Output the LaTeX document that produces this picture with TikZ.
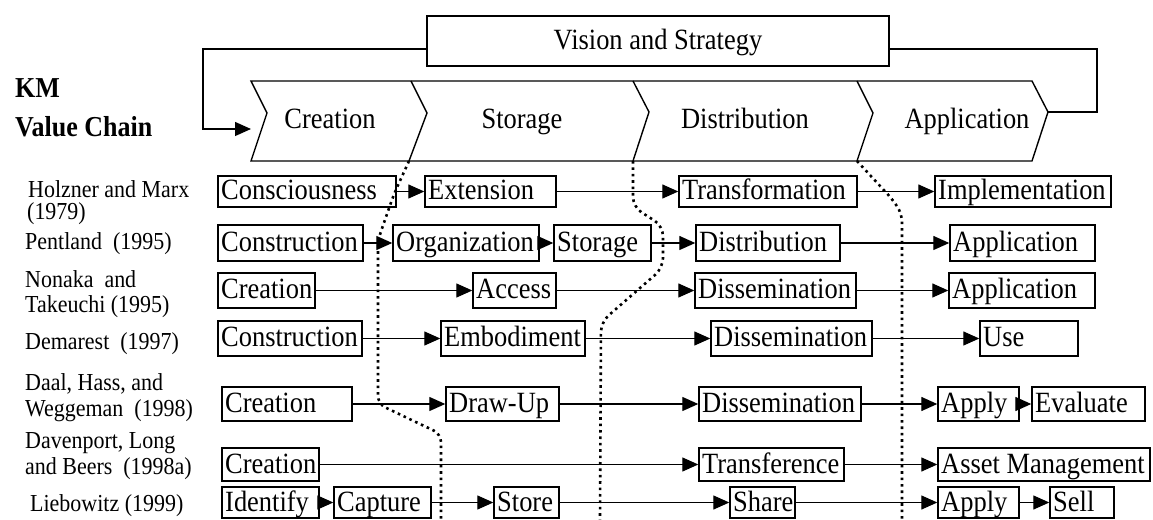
\documentclass[tikz,border=0pt]{standalone}
\usepackage{fontspec}
\setmainfont{Liberation Serif}[FakeStretch=0.9]
\usetikzlibrary{arrows.meta}
\tikzset{
  bx/.style={draw, line width=1.4bp, inner sep=0pt},
  btxt/.style={inner sep=0pt, anchor=base west, font=\fontsize{29.5}{33}\selectfont},
  ctxt/.style={inner sep=0pt, anchor=base, font=\fontsize{29.5}{33}\selectfont},
  lbl/.style={inner sep=0pt, anchor=base west, font=\fontsize{24.5}{25}\selectfont},
  kml/.style={inner sep=0pt, anchor=base west, font=\fontsize{29}{33}\selectfont\bfseries},
  ln/.style={line width=1.3bp},
  arr/.style={line width=1.3bp, -{Triangle[length=16bp,width=14bp]}},
  chev/.style={line width=1.4bp, line join=miter},
  dots/.style={line width=2.6bp, dash pattern=on 2.6bp off 3.8bp},
}
\newcommand\KBox[6]{%
  \node[bx, minimum width={(#3-#2)*1bp}, minimum height={(#5-#4)*1bp}] (#1) at ({(#2+#3)/2},{(#4+#5)/2}) {};
  \node[btxt] (#1t) at ({#2+3},{(#4+#5)/2+8.5}) {#6};}
\begin{document}
\begin{tikzpicture}[x=1bp,y=-1bp]
\useasboundingbox (0,0) rectangle (1153,520);
% Vision and strategy
\node[bx, minimum width=462bp, minimum height=50bp] (vis) at (658,41) {};
\node[ctxt] (vist) at (658,50) {Vision and Strategy};
% KM value chain label
\node[kml] (km) at (15,98) {KM};
\node[kml] (vc) at (15,137) {Value Chain};
% chevrons
\coordinate (c0t) at (251,81); \coordinate (c0n) at (267,113); \coordinate (c0b) at (251,161);
\coordinate (c1t) at (411,81); \coordinate (c1n) at (427,113); \coordinate (c1b) at (409,161);
\coordinate (c2t) at (633,81); \coordinate (c2n) at (649,112); \coordinate (c2b) at (633,161);
\coordinate (c3t) at (857,81); \coordinate (c3n) at (873,113); \coordinate (c3b) at (857,161);
\coordinate (c4t) at (1032,81); \coordinate (c4n) at (1048,112); \coordinate (c4b) at (1032,161);
\draw[chev] (c0t) -- (c4t) -- (c4n) -- (c4b) -- (c0b) -- (c0n) -- cycle;
\draw[chev] (c1t) -- (c1n) -- (c1b);
\draw[chev] (c2t) -- (c2n) -- (c2b);
\draw[chev] (c3t) -- (c3n) -- (c3b);
\node[ctxt] (sCre) at (330,129) {Creation};
\node[ctxt] (sSto) at (522,129) {Storage};
\node[ctxt] (sDis) at (745,129) {Distribution};
\node[ctxt] (sApp) at (967,129) {Application};
% loops
\coordinate (lk) at (203,49); \coordinate (cin) at (251,129);
\coordinate (rk) at (1097,49);
\draw[arr] (vis.west |- lk) -- (lk) -- (lk |- cin) -- (cin);
\draw[ln] (vis.east |- rk) -- (rk) -- (rk |- c4n) -- (c4n);
% row labels
\node[lbl] (l1a) at (28,198) {Holzner and Marx};
\node[lbl] (l1b) at (27,220) {(1979)};
\node[lbl] (l2) at (25,250) {Pentland\ \ (1995)};
\node[lbl] (l3a) at (25,288) {Nonaka\ \ and};
\node[lbl] (l3b) at (25,313) {Takeuchi (1995)};
\node[lbl] (l4) at (25,350) {Demarest\ \ (1997)};
\node[lbl] (l5a) at (25,390) {Daal, Hass, and};
\node[lbl] (l5b) at (25,416) {Weggeman\ \ (1998)};
\node[lbl] (l6a) at (25,448) {Davenport, Long};
\node[lbl] (l6b) at (25,474) {and Beers\ \ (1998a)};
\node[lbl] (l7) at (30,511) {Liebowitz (1999)};
% row 1
\KBox{h1a}{218}{396}{176}{207}{Consciousness}
\KBox{h1b}{425}{556}{176}{207}{Extension}
\KBox{h1c}{679}{857}{176}{207}{Transformation}
\KBox{h1d}{935}{1111}{176}{207}{Implementation}
% row 2
\KBox{p2a}{218}{363}{225}{261}{Construction}
\KBox{p2b}{393}{539}{225}{261}{Organization}
\KBox{p2c}{554}{651}{225}{261}{Storage}
\KBox{p2d}{696}{840}{225}{261}{Distribution}
\KBox{p2e}{950}{1095}{225}{261}{Application}
% row 3
\KBox{n3a}{218}{315}{273}{308}{Creation}
\KBox{n3b}{473}{556}{273}{308}{Access}
\KBox{n3c}{695}{856}{273}{308}{Dissemination}
\KBox{n3d}{949}{1095}{273}{308}{Application}
% row 4
\KBox{d4a}{218}{362}{321}{356}{Construction}
\KBox{d4b}{441}{585}{321}{356}{Embodiment}
\KBox{d4c}{711}{872}{321}{356}{Dissemination}
\KBox{d4d}{980}{1078}{321}{356}{Use}
% row 5
\KBox{g5a}{222}{352}{387}{421}{Creation}
\KBox{g5b}{446}{559}{387}{421}{Draw-Up}
\KBox{g5c}{699}{861}{387}{421}{Dissemination}
\KBox{g5d}{938}{1019}{387}{421}{Apply}
\KBox{g5e}{1032}{1145}{387}{421}{Evaluate}
% row 6
\KBox{v6a}{222}{319}{448}{481}{Creation}
\KBox{v6b}{699}{844}{448}{481}{Transference}
\KBox{v6c}{938}{1150}{448}{481}{Asset Management}
% row 7
\KBox{w7a}{222}{319}{487}{518}{Identify}
\KBox{w7b}{334}{431}{487}{518}{Capture}
\KBox{w7c}{494}{559}{487}{518}{Store}
\KBox{w7d}{730}{795}{487}{518}{Share}
\KBox{w7e}{938}{1019}{487}{518}{Apply}
\KBox{w7f}{1050}{1114}{487}{518}{Sell}
% arrows
\foreach \a/\b in {h1a/h1b,h1b/h1c,h1c/h1d,
  p2a/p2b,p2b/p2c,p2c/p2d,p2d/p2e,
  n3a/n3b,n3b/n3c,n3c/n3d,
  d4a/d4b,d4b/d4c,d4c/d4d,
  g5a/g5b,g5b/g5c,g5c/g5d,g5d/g5e,
  v6a/v6b,v6b/v6c,
  w7a/w7b,w7b/w7c,w7c/w7d,w7d/w7e,w7e/w7f}
  \draw[arr] (\a.east) -- (\b.west);
% dotted dividers
\draw[dots, rounded corners=8bp] (c1b) -- (394,194) -- (378,240) -- (378,404) -- (441,434) -- (441,520);
\draw[dots, rounded corners=10bp] (c2b) -- (633,207) -- (663,226) -- (663,268) -- (601,322) -- (600,520);
\draw[dots, rounded corners=8bp] (c3b) -- (893,200) -- (902,214) -- (902,520);
\end{tikzpicture}
\end{document}
